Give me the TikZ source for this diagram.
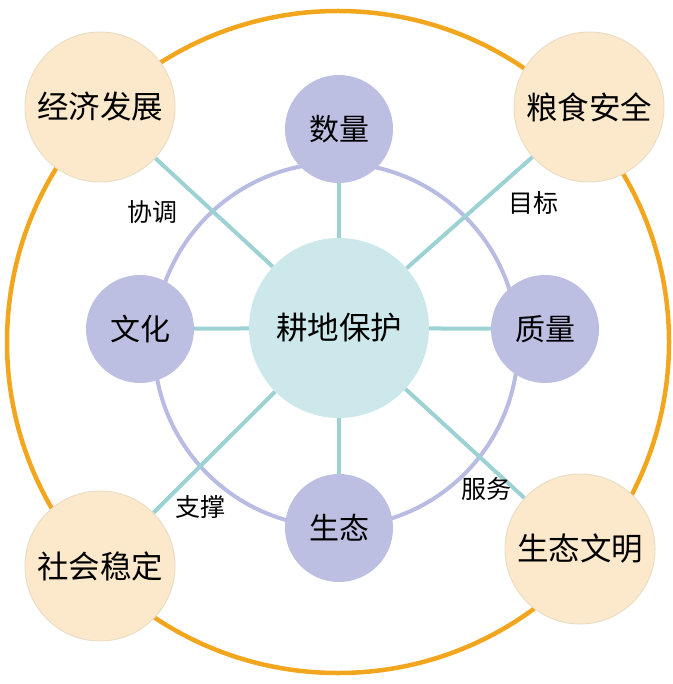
\documentclass[tikz,border=0pt]{standalone}
\usepackage{fontspec}
\setmainfont{Noto Sans CJK SC}
\usepackage{tikz}
\usetikzlibrary{
  positioning,
  backgrounds
}
\definecolor{clHub}{HTML}{CCE8EA}
\definecolor{clAspect}{HTML}{BDBFE2}
\definecolor{clGoal}{HTML}{FCE9CB}
\definecolor{clGoalLine}{HTML}{EADDC6}
\definecolor{clLink}{HTML}{9DD2D4}
\definecolor{clRing}{HTML}{F2A61E}
\definecolor{clOrbit}{HTML}{B9BCE2}
\tikzset{
  hub/.style={circle, fill=clHub, minimum size=180pt, inner sep=0pt, font=\fontsize{31.5}{33}\selectfont},
  aspect/.style={circle, fill=clAspect, minimum size=108pt, inner sep=0pt, font=\fontsize{30}{32}\selectfont},
  goal/.style={circle, fill=clGoal, draw=clGoalLine, line width=1pt, minimum size=150pt, inner sep=0pt, font=\fontsize{31.5}{33}\selectfont},
  link/.style={line width=4pt, clLink},
  ring/.style={line width=4.5pt, clRing},
  orbit/.style={line width=4pt, clOrbit},
  tag/.style={font=\fontsize{25}{27}\selectfont, inner sep=1pt}
}

\begin{document}
\begin{tikzpicture}[x=1pt, y=-1pt]
  \useasboundingbox (0,0) rectangle (672,684);
  % centre and the four aspects
  \node[hub] (hub) at (339,328) {耕地保护};
  \node[aspect] (qty)  at (339,129) {数量};
  \node[aspect] (qual) at (545,329) {质量};
  \node[aspect] (cult) at (140,329) {文化};
  \node[aspect] (env)  at (339,528) {生态};
  % goals on the outer ring
  \node[goal] (econ)   at (100,107) {经济发展};
  \node[goal] (grain)  at (589,107) {粮食安全};
  \node[goal] (social) at (100,566) {社会稳定};
  \node[goal] (eco)    at (580,549) {生态文明};
  % relation labels
  \node[tag] (tCoord) at (152,212) {协调};
  \node[tag] (tAim)   at (533,203) {目标};
  \node[tag] (tBase)  at (200,507) {支撑};
  \node[tag] (tServe) at (486,489) {服务};
  \begin{scope}[on background layer]
    \coordinate (mid) at (338,342);
    \coordinate (orb) at (336,345);
    \draw[ring] (mid) circle (331);
    \draw[orbit] (orb) circle (182);
    \foreach \n in {qty, qual, cult, env, econ, grain, social, eco}
      \draw[link] (hub) -- (\n);
  \end{scope}
\end{tikzpicture}
\end{document}
